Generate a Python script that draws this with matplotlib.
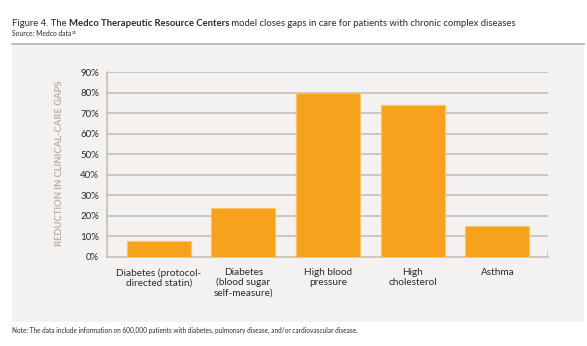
import matplotlib
matplotlib.use("Agg")
import matplotlib.pyplot as plt
from matplotlib.patches import Rectangle
from matplotlib.lines import Line2D

categories = [
    "Diabetes (protocol-\ndirected statin)",
    "Diabetes\n(blood sugar\nself-measure)",
    "High blood\npressure",
    "High\ncholesterol",
    "Asthma",
]
reduction_pct = [8, 24, 80, 74, 15]
y_ticks = [0, 10, 20, 30, 40, 50, 60, 70, 80, 90]
y_tick_labels = [f"{t}%" for t in y_ticks]

BAR = "#F6A21D"
BAR_EDGE = "#FAC46A"
GRID = "#C2B9B3"
PANEL = "#F3F2F0"
TEXT = "#2B2B2B"
AXLABEL = "#BCAFA4"
FONT = "Lato"

W, H = 587, 346
fig = plt.figure(figsize=(W / 100, H / 100), dpi=100)
fig.patch.set_facecolor("white")

# grey panel behind the chart, with a rule along its top
fig.add_artist(Rectangle((12 / W, 1 - 322 / H), (584 - 12) / W, (322 - 44) / H,
                         transform=fig.transFigure, facecolor=PANEL,
                         edgecolor="none", zorder=0))
fig.add_artist(Line2D([12 / W, 584 / W], [1 - 43.5 / H, 1 - 43.5 / H],
                      transform=fig.transFigure, color="#B9B0AA", lw=1.2, zorder=1))

ax = fig.add_axes([107.3 / W, 1 - 257 / H, (548.3 - 107.3) / W, (257 - 72.3) / H])
ax.set_facecolor(PANEL)
ax.set_zorder(2)

x = list(range(len(categories)))
ax.bar(x, reduction_pct, width=0.756, color=BAR, edgecolor=BAR_EDGE,
       linewidth=0.8, zorder=3)

ax.set_xlim(-0.607, 4.6)
ax.set_ylim(0, 90)
ax.set_yticks(y_ticks)
ax.set_yticklabels(y_tick_labels, fontsize=7, color=TEXT, family=FONT)
ax.set_xticks(x)
ax.set_xticklabels(categories, fontsize=7.2, color=TEXT, family=FONT,
                   linespacing=1.1, va="top")
ax.tick_params(axis="both", length=0)
ax.tick_params(axis="y", pad=6)
ax.tick_params(axis="x", pad=8)

for t in y_ticks[1:]:
    ax.axhline(t, color=GRID, lw=1.1, zorder=1)

for side in ("top", "right"):
    ax.spines[side].set_visible(False)
ax.spines["left"].set_color(GRID)
ax.spines["bottom"].set_color(GRID)
ax.spines["left"].set_linewidth(1.1)
ax.spines["bottom"].set_linewidth(1.1)
ax.axvline(4.6 - 0.005, ymin=0, ymax=0.025, color=GRID, lw=1.1, zorder=2)

ax.set_ylabel("REDUCTION IN CLINICAL-CARE GAPS", fontsize=6.8, color=AXLABEL,
              family=FONT, fontweight="bold")
ax.yaxis.set_label_coords(-0.098, 0.51)

# title line with a bold run in the middle
fig.canvas.draw()
renderer = fig.canvas.get_renderer()
parts = [("Figure 4. The ", "normal"),
         ("Medco Therapeutic Resource Centers", "bold"),
         (" model closes gaps in care for patients with chronic complex diseases", "normal")]
xpos = 12 / W
ty = 1 - 23 / H
for txt, wt in parts:
    t = fig.text(xpos, ty, txt, fontsize=6.85, family=FONT, fontweight=wt,
                 color=TEXT, va="center", ha="left")
    bb = t.get_window_extent(renderer)
    xpos += bb.width / W

s = fig.text(12 / W, 1 - 34 / H, "Source: Medco data", fontsize=4.9, family=FONT,
             color=TEXT, va="center", ha="left")
bb = s.get_window_extent(renderer)
fig.text(12 / W + bb.width / W, 1 - 32.5 / H, "25", fontsize=3.2, family=FONT,
         color=TEXT, va="center", ha="left")

fig.text(12 / W, 1 - 330.5 / H,
         "Note: The data include information on 600,000 patients with diabetes, "
         "pulmonary disease, and/or cardiovascular disease.",
         fontsize=4.7, family=FONT, color=TEXT, va="center", ha="left")

fig.savefig("out.png", dpi=100, facecolor="white")
